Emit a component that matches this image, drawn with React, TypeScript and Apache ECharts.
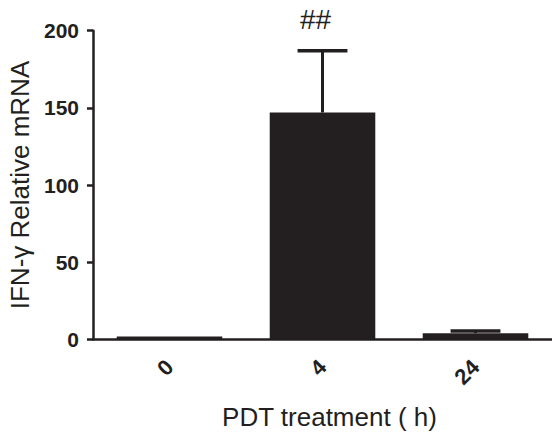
import React, { useEffect, useRef } from "react";
import * as echarts from "echarts";

const categories = ["0", "4", "24"];
const means = [1.8, 147, 4];
const errorTops: (number | null)[] = [null, 187, 5.4];
const annotations = ["", "##", ""];
const yTicks = { min: 0, max: 200, interval: 50 };

const INK = "#231f20";
const FONT = "'Liberation Sans', Arial, Helvetica, sans-serif";

export default function App() {
  const ref = useRef<HTMLDivElement>(null);
  useEffect(() => {
    if (!ref.current) return;
    const chart = echarts.init(ref.current, null, { renderer: "svg" });
    const option: any = {
      animation: false,
      backgroundColor: "#ffffff",
      grid: {
        left: 93,
        right: 0,
        top: 30.7,
        bottom: 94.7,
        containLabel: false,
        outerBoundsMode: "none",
      },
      xAxis: {
        type: "category",
        data: categories,
        boundaryGap: true,
        name: "PDT treatment ( h)",
        nameLocation: "middle",
        nameGap: 65,
        nameTextStyle: { fontSize: 26, color: INK, fontFamily: FONT, padding: [0, 0, 0, 14] },
        axisLine: { lineStyle: { color: INK, width: 2.5 } },
        axisTick: { alignWithLabel: true, length: 9, lineStyle: { color: INK, width: 2.5 } },
        axisLabel: { rotate: 45, fontSize: 22, fontWeight: "bold", color: INK, fontFamily: FONT, margin: 24 },
        splitLine: { show: false },
      },
      yAxis: {
        type: "value",
        min: yTicks.min,
        max: yTicks.max,
        interval: yTicks.interval,
        name: "IFN-γ Relative mRNA",
        nameLocation: "middle",
        nameGap: 60,
        nameTextStyle: { fontSize: 26, color: INK, fontFamily: FONT },
        axisLine: { show: true, lineStyle: { color: INK, width: 2.5 } },
        axisTick: { show: true, length: 6, lineStyle: { color: INK, width: 2.5 } },
        axisLabel: { fontSize: 21, fontWeight: "bold", color: INK, fontFamily: FONT, margin: 14 },
        splitLine: { show: false },
      },
      series: [
        {
          type: "bar",
          data: means,
          barWidth: "69%",
          itemStyle: { color: INK },
          z: 2,
        },
        {
          type: "custom",
          z: 3,
          data: categories.map((_, i) => [i, means[i], errorTops[i] == null ? means[i] : errorTops[i]]),
          renderItem: (params: any, api: any) => {
            const i = params.dataIndex;
            if (errorTops[i] == null) return { type: "group", children: [] };
            const idx = api.value(0);
            const base = api.coord([idx, api.value(1)]);
            const top = api.coord([idx, api.value(2)]);
            const band = api.size([1, 0])[0];
            const half = band * 0.163;
            const children: any[] = [
              {
                type: "line",
                shape: { x1: base[0], y1: base[1], x2: top[0], y2: top[1] },
                style: { stroke: INK, lineWidth: 3 },
              },
              {
                type: "line",
                shape: { x1: top[0] - half, y1: top[1], x2: top[0] + half, y2: top[1] },
                style: { stroke: INK, lineWidth: 3.5 },
              },
            ];
            const ann = annotations[i];
            if (ann) {
              children.push({
                type: "text",
                x: top[0] - 7,
                y: top[1] - 17,
                style: {
                  text: ann,
                  fontSize: 28,
                  fontFamily: FONT,
                  fill: INK,
                  align: "center",
                  verticalAlign: "bottom",
                },
              });
            }
            return { type: "group", children };
          },
        },
      ],
    };
    chart.setOption(option);
    return () => chart.dispose();
  }, []);
  return (
    <div
      ref={ref}
      style={{ position: "fixed", left: 0, top: 0, width: 552, height: 434, background: "#fff" }}
    />
  );
}
